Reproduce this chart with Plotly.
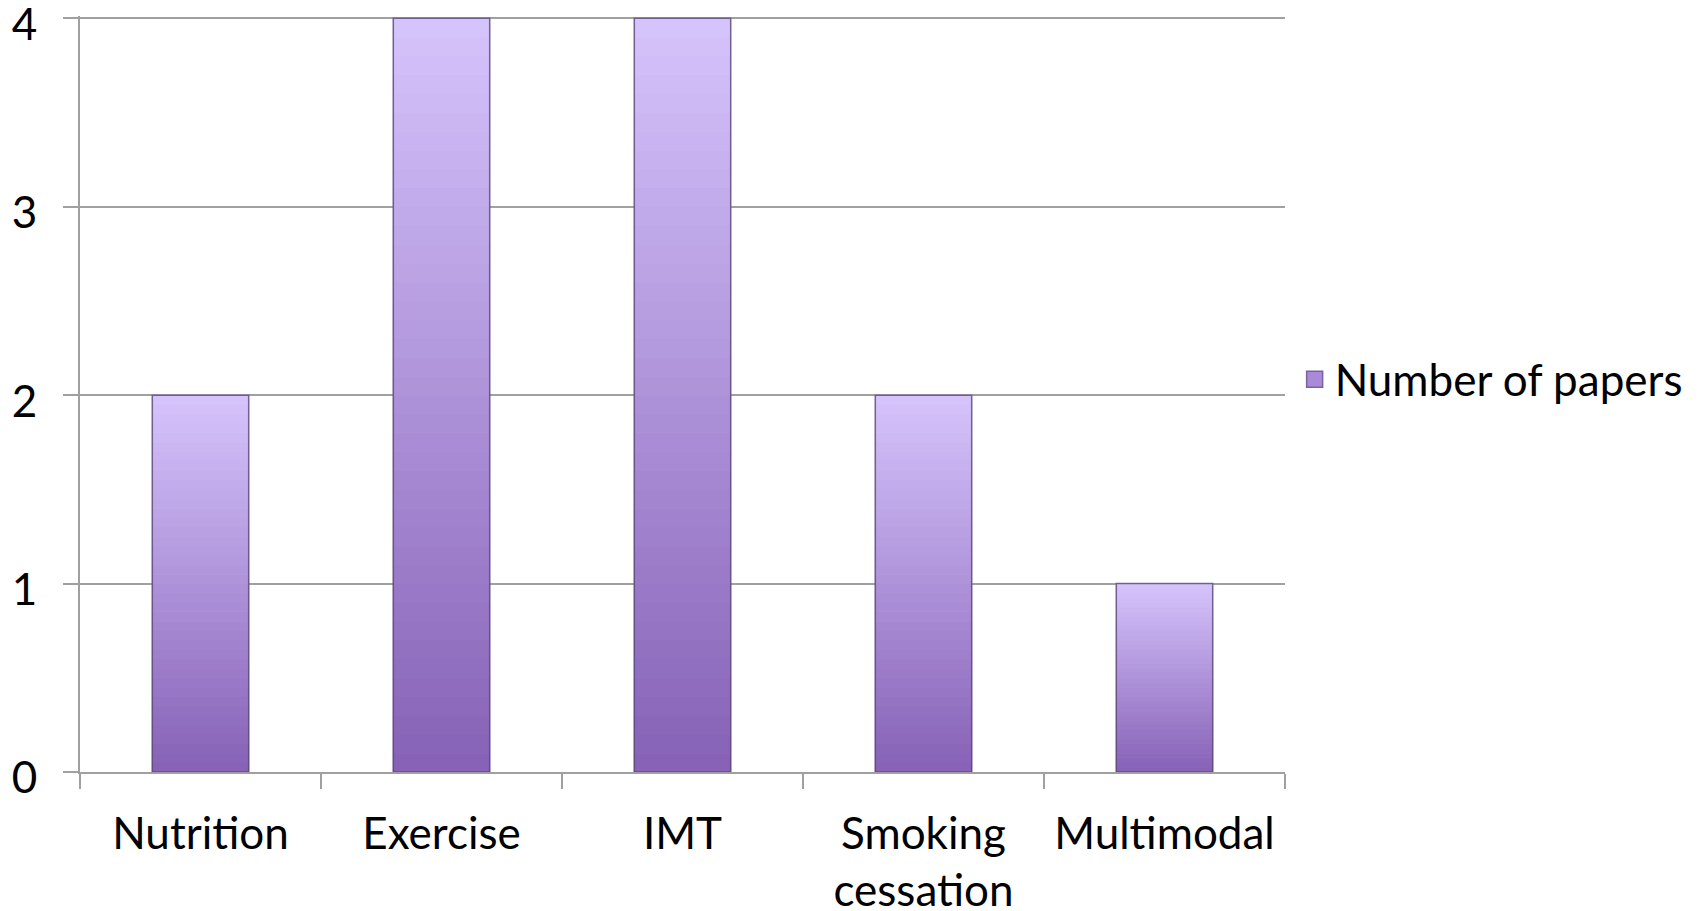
import plotly.graph_objects as go

categories = ["Nutrition", "Exercise", "IMT", "Smoking<br>cessation", "Multimodal"]
values = [2, 4, 4, 2, 1]
series_name = "Number of papers"
y_ticks = [0, 1, 2, 3, 4]

FONT = "Lato"
FS = 44
TOP = (214, 196, 252)
BOT = (134, 97, 182)
N = 40

fig = go.Figure()
for i in range(N):
    f = (i + 0.5) / N  # 0 bottom -> 1 top
    c = tuple(int(round(BOT[k] + (TOP[k] - BOT[k]) * f)) for k in range(3))
    col = "rgb(%d,%d,%d)" % c
    fig.add_trace(go.Bar(
        x=categories,
        y=[v / N for v in values],
        base=[v * i / N for v in values],
        width=0.4,
        marker=dict(color=col, line=dict(width=1, color=col)),
        showlegend=False, hoverinfo="skip",
    ))
# outline of each bar
fig.add_trace(go.Bar(
    x=categories, y=values, width=0.4, name=series_name,
    marker=dict(color="rgba(0,0,0,0)", line=dict(color="rgba(90,70,120,0.8)", width=1.5)),
    showlegend=False,
))
# legend entry
fig.add_trace(go.Scatter(
    x=[None], y=[None], name=series_name, mode="markers",
    marker=dict(symbol="square", size=24, color="#a98ad8", line=dict(color="#7a62a0", width=1.5)),
    showlegend=True,
))

fig.update_layout(
    width=1706, height=911,
    barmode="overlay",
    paper_bgcolor="white", plot_bgcolor="white",
    margin=dict(l=80, r=421, t=16, b=139),
    font=dict(family=FONT, size=FS, color="black"),
    legend=dict(x=1.008, xanchor="left", y=0.519, yanchor="middle",
                font=dict(family=FONT, size=FS, color="black"),
                itemwidth=30, itemsizing="trace", bgcolor="rgba(0,0,0,0)"),
    xaxis=dict(
        type="category", range=[-0.5, 4.5], automargin=False,
        showline=True, linecolor="#a0a0a0", linewidth=2,
        ticks="outside", ticklen=15, tickcolor="#a0a0a0", tickwidth=2,
        tickson="boundaries", showgrid=False,
        ticklabelstandoff=22, ticklabeloverflow="allow",
        tickfont=dict(family=FONT, size=FS, color="black"),
    ),
    yaxis=dict(
        range=[0, 4.012], tickvals=y_ticks, automargin=False,
        showline=True, linecolor="#a0a0a0", linewidth=2,
        showgrid=True, gridcolor="#a0a0a0", gridwidth=2,
        ticks="outside", ticklen=15, tickcolor="#a0a0a0", tickwidth=2,
        zeroline=False,
        ticklabelstandoff=17, ticklabelshift=6, ticklabeloverflow="allow",
        tickfont=dict(family=FONT, size=FS, color="black"),
    ),
)

fig.write_html("out.html")
